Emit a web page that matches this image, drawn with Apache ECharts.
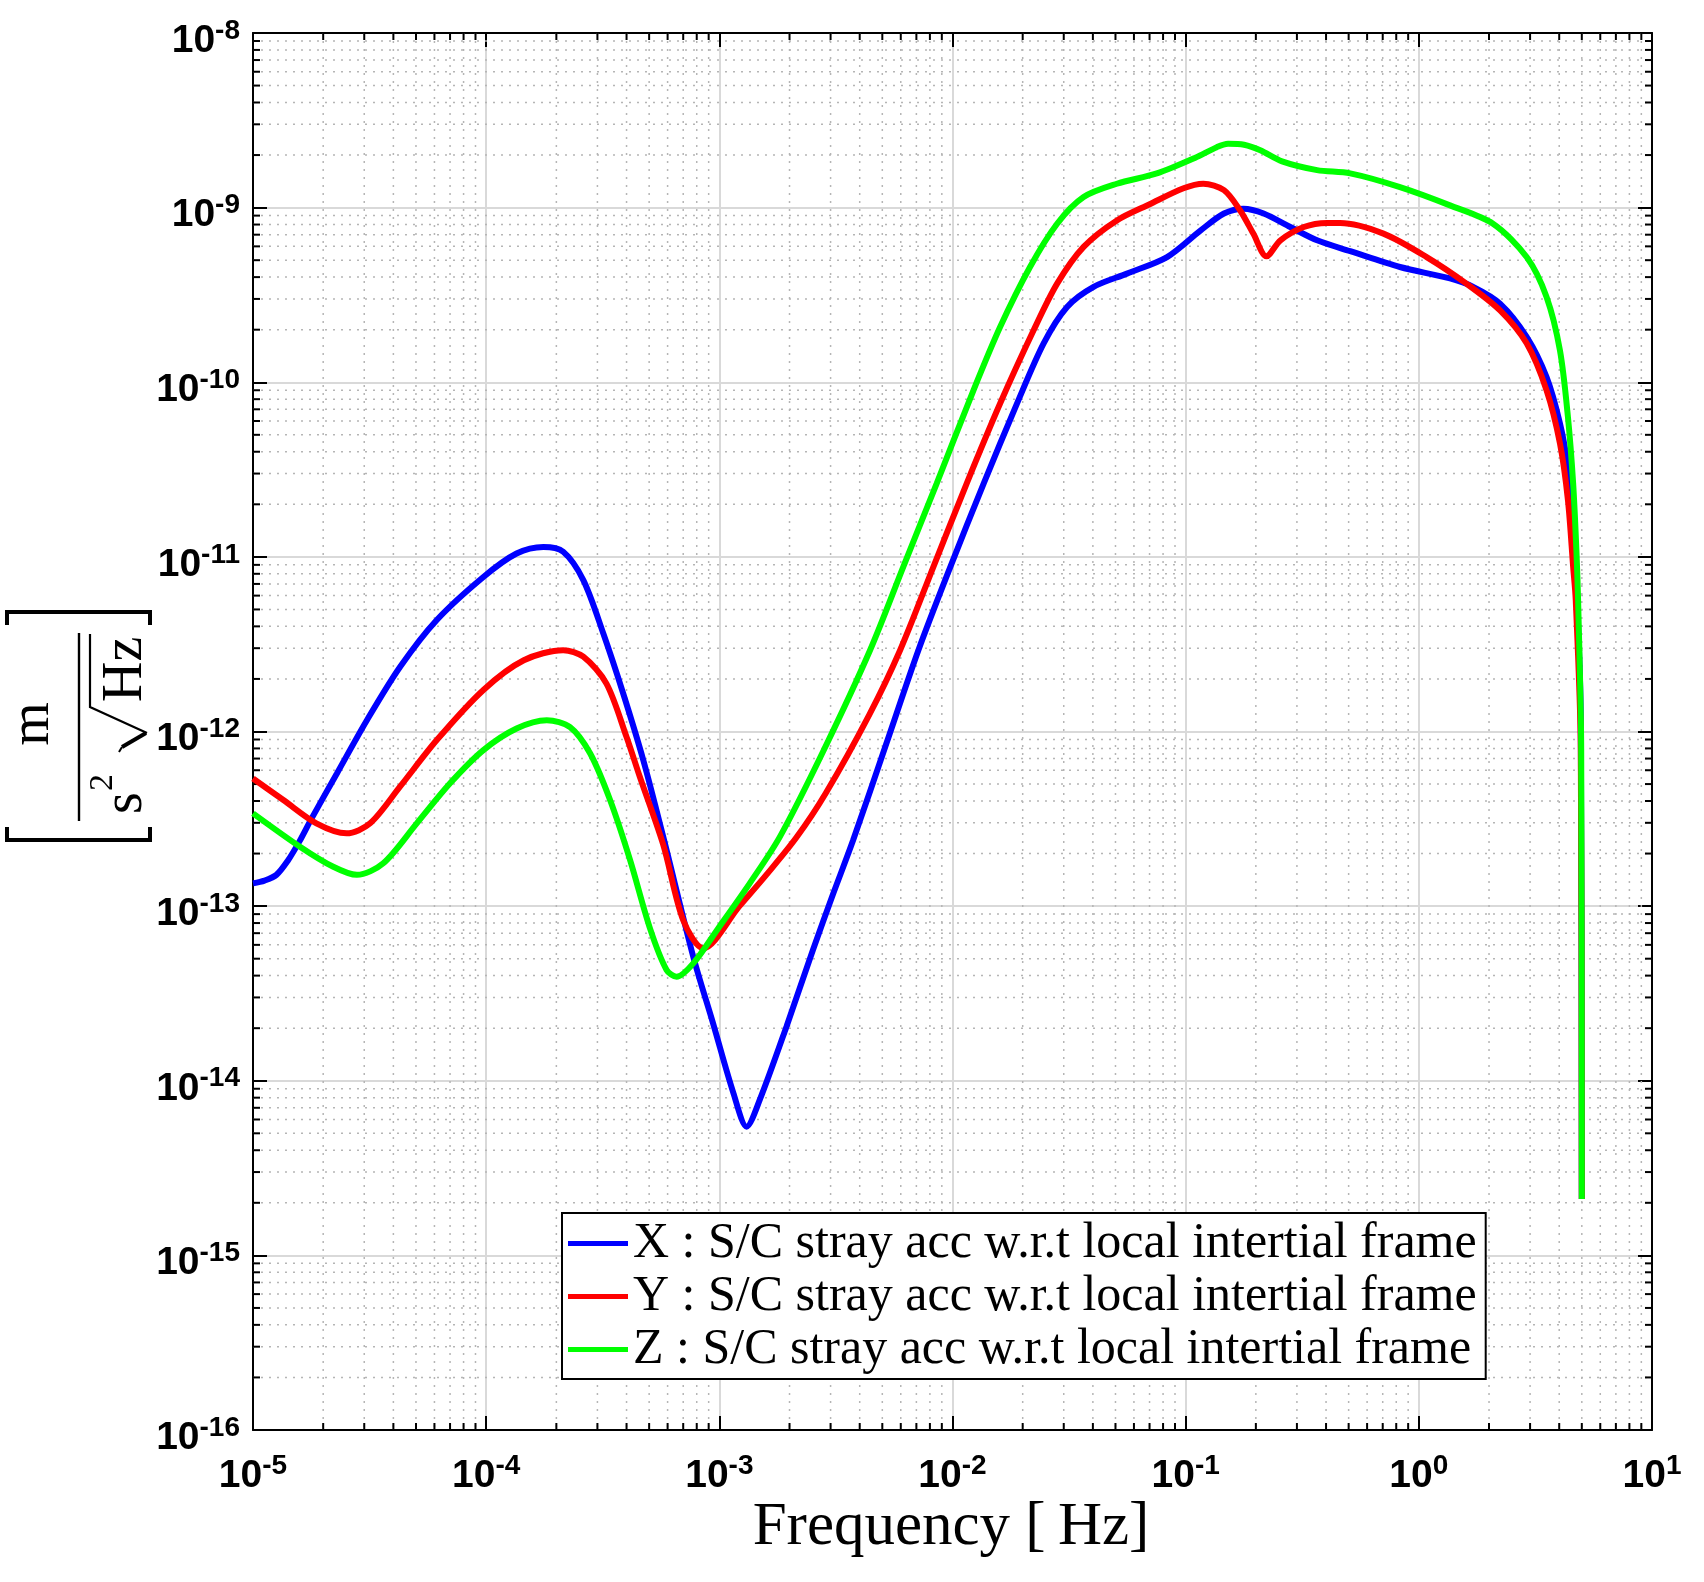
<!DOCTYPE html>
<html>
<head>
<meta charset="utf-8">
<title>S/C stray acceleration</title>
<script src="https://cdn.jsdelivr.net/npm/echarts@6/dist/echarts.min.js"></script>
<style>
  html, body { margin: 0; padding: 0; background: #fff; }
  #main { width: 1704px; height: 1582px; }
</style>
</head>
<body>
<div id="main"></div>
<script>
// names
var nameX = 'X : S/C stray acc w.r.t local intertial frame';
var nameY = 'Y : S/C stray acc w.r.t local intertial frame';
var nameZ = 'Z : S/C stray acc w.r.t local intertial frame';

// X (blue)
var xFreq = [1.00e-5, 1.12e-5, 1.26e-5, 1.41e-5, 1.58e-5, 1.78e-5, 2.29e-5, 3.08e-5, 4.27e-5, 6.14e-5, 9.73e-5, 1.35e-4, 1.76e-4,
  2.14e-4, 2.61e-4, 3.18e-4, 3.87e-4, 4.72e-4, 5.75e-4, 7.73e-4, 9.40e-4, 1.15e-3, 1.31e-3,
  1.49e-3, 1.94e-3, 2.52e-3, 3.08e-3, 3.75e-3, 5.20e-3, 7.14e-3, 9.79e-3, 1.36e-2, 1.89e-2,
  2.46e-2, 3.10e-2, 4.03e-2, 5.60e-2, 8.32e-2, 1.16e-1, 1.46e-1, 1.77e-1, 2.16e-1, 2.81e-1,
  3.66e-1, 5.08e-1, 8.30e-1, 1.36, 1.71, 2.23, 2.90, 3.53, 4.03, 4.36, 4.59, 4.74, 4.95, 5.00];
var xVal = [1.35e-13, 1.40e-13, 1.51e-13, 1.82e-13, 2.34e-13, 3.16e-13, 5.75e-13, 1.16e-12, 2.34e-12, 4.35e-12, 7.67e-12, 1.045e-11, 1.14e-11,
  1.07e-11, 7.36e-12, 3.64e-12, 1.65e-12, 6.85e-13, 2.49e-13, 5.13e-14, 2.13e-14, 8.47e-15, 5.46e-15,
  7.76e-15, 2.04e-14, 5.61e-14, 1.18e-13, 2.39e-13, 8.5e-13, 2.92e-12, 8.77e-12, 2.63e-11, 7.55e-11,
  1.67e-10, 2.70e-10, 3.52e-10, 4.19e-10, 5.21e-10, 7.41e-10, 9.25e-10, 9.86e-10, 9.25e-10, 7.74e-10,
  6.50e-10, 5.63e-10, 4.57e-10, 3.93e-10, 3.52e-10, 2.82e-10, 1.82e-10, 1.07e-10, 5.81e-11, 3.28e-11,
  1.69e-11, 7.05e-12, 1.2e-12, 2.1e-15];

// Y (red)
var yFreq = [1.00e-5, 1.35e-5, 1.87e-5, 2.52e-5, 3.18e-5, 4.27e-5, 6.14e-5, 9.73e-5, 1.45e-4, 2.14e-4,
  2.61e-4, 3.28e-4, 4.00e-4, 4.56e-4, 5.75e-4, 7.00e-4, 8.53e-4, 1.22e-3, 1.59e-3, 2.14e-3, 2.86e-3,
  4.40e-3, 5.96e-3, 8.28e-3, 1.15e-2, 1.60e-2, 2.23e-2, 2.81e-2, 3.65e-2, 5.07e-2, 7.05e-2,
  9.79e-2, 1.19e-1, 1.46e-1, 1.71e-1, 1.95e-1, 2.22e-1, 2.55e-1, 3.21e-1, 4.04e-1, 4.60e-1,
  7.05e-1, 1.08, 1.60, 2.23, 2.90, 3.53, 4.03, 4.36, 4.59, 4.71, 4.95, 5.00];
var yVal = [5.38e-13, 4.05e-13, 2.98e-13, 2.61e-13, 2.98e-13, 4.83e-13, 8.93e-13, 1.73e-12, 2.56e-12, 2.92e-12,
  2.68e-12, 1.88e-12, 9.3e-13, 5.5e-13, 2.24e-13, 8.3e-14, 5.73e-14, 1.0e-13, 1.51e-13, 2.47e-13, 4.43e-13,
  1.25e-12, 2.92e-12, 8.77e-12, 2.63e-11, 7.55e-11, 1.99e-10, 3.67e-10, 5.96e-10, 8.45e-10, 1.05e-9,
  1.29e-9, 1.37e-9, 1.26e-9, 9.66e-10, 7.10e-10, 5.26e-10, 6.50e-10, 7.74e-10, 8.17e-10, 8.17e-10,
  7.10e-10, 5.21e-10, 3.67e-10, 2.58e-10, 1.67e-10, 8.99e-11, 4.46e-11, 2.11e-11, 8.77e-12, 5.65e-12,
  8e-13, 2.1e-15];

// Z (green)
var zFreq = [1.00e-5, 1.59e-5, 2.21e-5, 2.79e-5, 3.62e-5, 5.04e-5, 7.00e-5, 9.73e-5, 1.35e-4, 1.82e-4,
  2.29e-4, 2.79e-4, 3.40e-4, 4.14e-4, 5.05e-4, 5.94e-4, 6.56e-4, 7.73e-4, 1.00e-3, 1.35e-3,
  1.82e-3, 2.82e-3, 4.43e-3, 6.15e-3, 8.55e-3, 1.23e-2, 1.60e-2, 2.15e-2, 2.81e-2, 3.65e-2,
  5.07e-2, 7.52e-2, 1.10e-1, 1.36e-1, 1.52e-1, 1.78e-1, 2.09e-1, 2.59e-1, 3.66e-1, 5.08e-1, 8.30e-1,
  1.36, 2.08, 2.90, 3.53, 4.03, 4.36, 4.59, 4.74, 4.82, 4.97, 5.00];
var zVal = [3.40e-13, 2.19e-13, 1.68e-13, 1.51e-13, 1.76e-13, 2.98e-13, 5.05e-13, 7.82e-13, 1.04e-12, 1.16e-12,
  1.06e-12, 7.50e-13, 4.05e-13, 1.84e-13, 7.41e-14, 4.31e-14, 3.94e-14, 4.70e-14, 7.62e-14, 1.35e-13,
  2.50e-13, 7.94e-13, 2.92e-12, 8.77e-12, 2.63e-11, 8.99e-11, 2.07e-10, 4.57e-10, 8.09e-10, 1.15e-9,
  1.37e-9, 1.57e-9, 1.93e-9, 2.22e-9, 2.32e-9, 2.29e-9, 2.13e-9, 1.84e-9, 1.64e-9, 1.57e-9, 1.31e-9,
  1.03e-9, 8.09e-10, 5.21e-10, 3.08e-10, 1.52e-10, 6.32e-11, 2.63e-11, 1.09e-11, 5.65e-12, 8e-13,
  2.1e-15];

// axis decades and minor grid multipliers
var xDecades = [1e-5, 1e-4, 1e-3, 1e-2, 1e-1, 1e0];
var yDecades = [1e-16, 1e-15, 1e-14, 1e-13, 1e-12, 1e-11, 1e-10, 1e-9];
var minorMult = [2, 3, 4, 5, 6, 7, 8, 9];

var xMinor = [];
xDecades.forEach(function (d) { minorMult.forEach(function (m) { xMinor.push([m * d, 1e-12]); }); });
var yMinor = [];
yDecades.forEach(function (d) { minorMult.forEach(function (m) { yMinor.push([1e-3, m * d]); }); });

function pairs(f, v) {
  return f.map(function (x, i) { return [x, v[i]]; });
}

var chart = echarts.init(document.getElementById('main'));

var sans = '"Liberation Sans", Arial, Helvetica, sans-serif';
var serif = '"Liberation Serif", "Times New Roman", serif';
var minorGrid = '#b5b5b5';
var majorGrid = '#d9d9d9';

var richPow = {
  b: { fontSize: 39, fontWeight: 'bold', fontFamily: sans, color: '#000', lineHeight: 48 },
  s: { fontSize: 28, fontWeight: 'bold', fontFamily: sans, color: '#000', lineHeight: 27, verticalAlign: 'top' }
};
function powLabel(v) {
  var e = Math.round(Math.log10(v));
  return '{b|10}{s|' + e + '}';
}

function renderXMinor(params, api) {
  var p = api.coord([api.value(0), api.value(1)]);
  var cs = params.coordSys;
  var x = p[0];
  return {
    type: 'group',
    children: [
      { type: 'line', shape: { x1: x, y1: cs.y, x2: x, y2: cs.y + cs.height },
        style: { stroke: minorGrid, lineWidth: 1.5, lineDash: [2, 6] } },
      { type: 'line', shape: { x1: x, y1: cs.y + cs.height, x2: x, y2: cs.y + cs.height - 7 },
        style: { stroke: '#000', lineWidth: 2 } },
      { type: 'line', shape: { x1: x, y1: cs.y, x2: x, y2: cs.y + 7 },
        style: { stroke: '#000', lineWidth: 2 } }
    ]
  };
}
function renderYMinor(params, api) {
  var p = api.coord([api.value(0), api.value(1)]);
  var cs = params.coordSys;
  var y = p[1];
  return {
    type: 'group',
    children: [
      { type: 'line', shape: { x1: cs.x, y1: y, x2: cs.x + cs.width, y2: y },
        style: { stroke: minorGrid, lineWidth: 1.5, lineDash: [2, 6] } },
      { type: 'line', shape: { x1: cs.x, y1: y, x2: cs.x + 7, y2: y },
        style: { stroke: '#000', lineWidth: 2 } },
      { type: 'line', shape: { x1: cs.x + cs.width, y1: y, x2: cs.x + cs.width - 7, y2: y },
        style: { stroke: '#000', lineWidth: 2 } }
    ]
  };
}

var axisLine = { show: true, onZero: false, lineStyle: { color: '#000', width: 2 } };
var majorTick = { show: true, inside: true, length: 14, lineStyle: { color: '#000', width: 2 } };

var option = {
  animation: false,
  backgroundColor: '#fff',
  grid: { left: 253, right: 52, top: 33, bottom: 152, containLabel: false },
  xAxis: [{
    type: 'log', logBase: 10, min: 1e-5, max: 10, splitNumber: 6,
    axisLine: axisLine, axisTick: majorTick,
    axisLabel: { formatter: powLabel, rich: richPow, margin: 22 },
    splitLine: { show: true, lineStyle: { color: majorGrid, width: 2 } }
  }, {
    type: 'log', logBase: 10, min: 1e-5, max: 10, splitNumber: 6, position: 'top',
    axisLine: axisLine, axisTick: majorTick, axisLabel: { show: false }, splitLine: { show: false }
  }],
  yAxis: [{
    type: 'log', logBase: 10, min: 1e-16, max: 1e-8, splitNumber: 8,
    axisLine: axisLine, axisTick: majorTick,
    axisLabel: { formatter: powLabel, rich: richPow, margin: 13, padding: [16, 0, 0, 0] },
    splitLine: { show: true, lineStyle: { color: majorGrid, width: 2 } }
  }, {
    type: 'log', logBase: 10, min: 1e-16, max: 1e-8, splitNumber: 8, position: 'right',
    axisLine: axisLine, axisTick: majorTick, axisLabel: { show: false }, splitLine: { show: false }
  }],
  legend: {
    data: [nameX, nameY, nameZ],
    orient: 'vertical', left: 562, top: 1213,
    icon: 'rect', itemWidth: 60, itemHeight: 5, itemGap: 0,
    padding: [4, 9, 3, 6],
    borderColor: '#000', borderWidth: 2, backgroundColor: '#fff',
    selectedMode: false,
    textStyle: { fontFamily: serif, fontSize: 50, lineHeight: 53, color: '#000' }
  },
  series: [{
    type: 'custom', renderItem: renderXMinor, data: xMinor, z: 1, silent: true
  }, {
    type: 'custom', renderItem: renderYMinor, data: yMinor, z: 1, silent: true
  }, {
    name: nameX, type: 'line', data: pairs(xFreq, xVal), showSymbol: false, symbol: 'none',
    smooth: 0.3, z: 3, color: '#0000ff', lineStyle: { color: '#0000ff', width: 6 }
  }, {
    name: nameY, type: 'line', data: pairs(yFreq, yVal), showSymbol: false, symbol: 'none',
    smooth: 0.3, z: 3, color: '#ff0000', lineStyle: { color: '#ff0000', width: 6 }
  }, {
    name: nameZ, type: 'line', data: pairs(zFreq, zVal), showSymbol: false, symbol: 'none',
    smooth: 0.3, z: 3, color: '#00ff00', lineStyle: { color: '#00ff00', width: 6 }
  }],
  graphic: [{
    type: 'text', x: 951, y: 1528,
    style: { text: 'Frequency [\u2009Hz]', font: '61px ' + serif, fill: '#000', textAlign: 'center', textVerticalAlign: 'middle' }
  }, {
    // y axis title: [ m / (s^2 sqrt(Hz)) ], rotated
    type: 'group', x: 79, y: 728, rotation: Math.PI / 2,
    children: [
      { type: 'polyline', shape: { points: [[-99, -72], [-112, -72], [-112, 71], [-99, 71]] },
        style: { stroke: '#000', lineWidth: 4, fill: null } },
      { type: 'polyline', shape: { points: [[103, -72], [116, -72], [116, 71], [103, 71]] },
        style: { stroke: '#000', lineWidth: 4, fill: null } },
      { type: 'line', shape: { x1: -93, y1: 0, x2: 95, y2: 0 }, style: { stroke: '#000', lineWidth: 2.4 } },
      { type: 'text', x: 4, y: -46, style: { text: 'm', font: '56px ' + serif, fill: '#000', textAlign: 'center', textVerticalAlign: 'middle' } },
      { type: 'text', x: -86, y: 47, style: { text: 's', font: '56px ' + serif, fill: '#000', textAlign: 'left', textVerticalAlign: 'middle' } },
      { type: 'text', x: -63, y: 24, style: { text: '2', font: '34px ' + serif, fill: '#000', textAlign: 'left', textVerticalAlign: 'middle' } },
      { type: 'polyline', shape: { points: [[-24, 40], [-19, 43]] }, style: { stroke: '#000', lineWidth: 2, fill: null } },
      { type: 'line', shape: { x1: -19, y1: 43, x2: -5, y2: 67 }, style: { stroke: '#000', lineWidth: 4 } },
      { type: 'polyline', shape: { points: [[-5, 68], [21, 11], [94, 11]] }, style: { stroke: '#000', lineWidth: 2.2, fill: null } },
      { type: 'text', x: 26, y: 47, style: { text: 'Hz', font: '56px ' + serif, fill: '#000', textAlign: 'left', textVerticalAlign: 'middle' } }
    ]
  }]
};

chart.setOption(option);
</script>
</body>
</html>
